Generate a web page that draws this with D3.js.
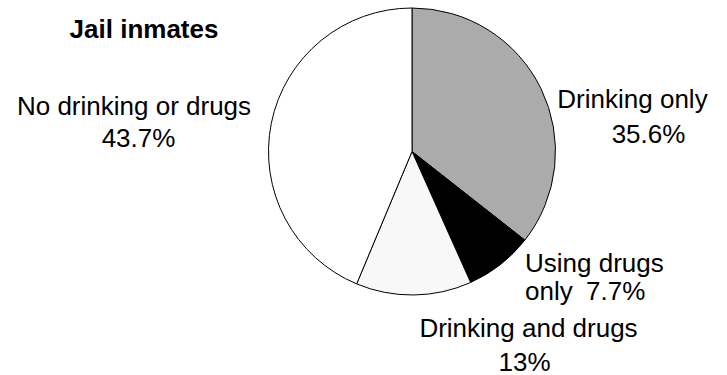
<!DOCTYPE html>
<html>
<head>
<meta charset="utf-8">
<script src="https://cdn.jsdelivr.net/npm/d3@7"></script>
<style>
	body{margin:0;background:#fff;}
	svg{display:block;font-family:"Liberation Sans", Arial, sans-serif;}
</style>
</head>
<body>
<svg id="chart" width="727" height="375"></svg>
<script>
// data
var title = "Jail inmates";
var categories = ["Drinking only", "Using drugs only", "Drinking and drugs", "No drinking or drugs"];
var shares = [35.6, 7.7, 13, 43.7];
var valueLabels = ["35.6%", "7.7%", "13%", "43.7%"];

// styles and label placement (layout only)
var fills = ["#ababab", "#000000", "#f8f8f8", "#ffffff"];
var labelLayout = [
	[{text: "Drinking only", x: 632.5, y: 108, anchor: "middle"},
	 {text: valueLabels[0], x: 648.5, y: 143, anchor: "middle"}],
	[{text: "Using drugs", x: 525, y: 272, anchor: "start"},
	 {text: "only", x: 525, y: 300, anchor: "start"},
	 {text: valueLabels[1], x: 586, y: 300, anchor: "start"}],
	[{text: "Drinking and drugs", x: 528.5, y: 337, anchor: "middle"},
	 {text: valueLabels[2], x: 524.5, y: 371, anchor: "middle"}],
	[{text: "No drinking or drugs", x: 134, y: 115, anchor: "middle"},
	 {text: valueLabels[3], x: 138.5, y: 147, anchor: "middle"}]
];

var svg = d3.select("#chart"),
	cx = 412,
	cy = 151.5,
	radius = 143.5,
	fontSize = 26;

var data = categories.map(function(c, i){
	return {key: c, value: shares[i], fill: fills[i], labels: labelLayout[i]};
});

var pie = d3.pie().sort(null).value(function(d){return d.value;});
var arc = d3.arc().innerRadius(0).outerRadius(radius);

var slices = svg.append("g")
	.attr("class", "slices")
	.attr("transform", "translate(" + cx + "," + cy + ")");

slices.selectAll("path")
	.data(pie(data))
	.enter()
	.append("path")
	.attr("d", arc)
	.attr("fill", function(d){return d.data.fill;})
	.attr("stroke", "#000")
	.attr("stroke-width", 1)
	.attr("stroke-linejoin", "round");

svg.append("text")
	.attr("x", 144)
	.attr("y", 38)
	.attr("text-anchor", "middle")
	.attr("font-size", fontSize + "px")
	.attr("font-weight", "bold")
	.attr("fill", "#000")
	.text(title);

var labels = svg.append("g").attr("class", "labels");
data.forEach(function(d){
	labels.selectAll(null)
		.data(d.labels)
		.enter()
		.append("text")
		.attr("x", function(l){return l.x;})
		.attr("y", function(l){return l.y;})
		.attr("text-anchor", function(l){return l.anchor;})
		.attr("font-size", fontSize + "px")
		.attr("fill", "#000")
		.text(function(l){return l.text;});
});
</script>
</body>
</html>
